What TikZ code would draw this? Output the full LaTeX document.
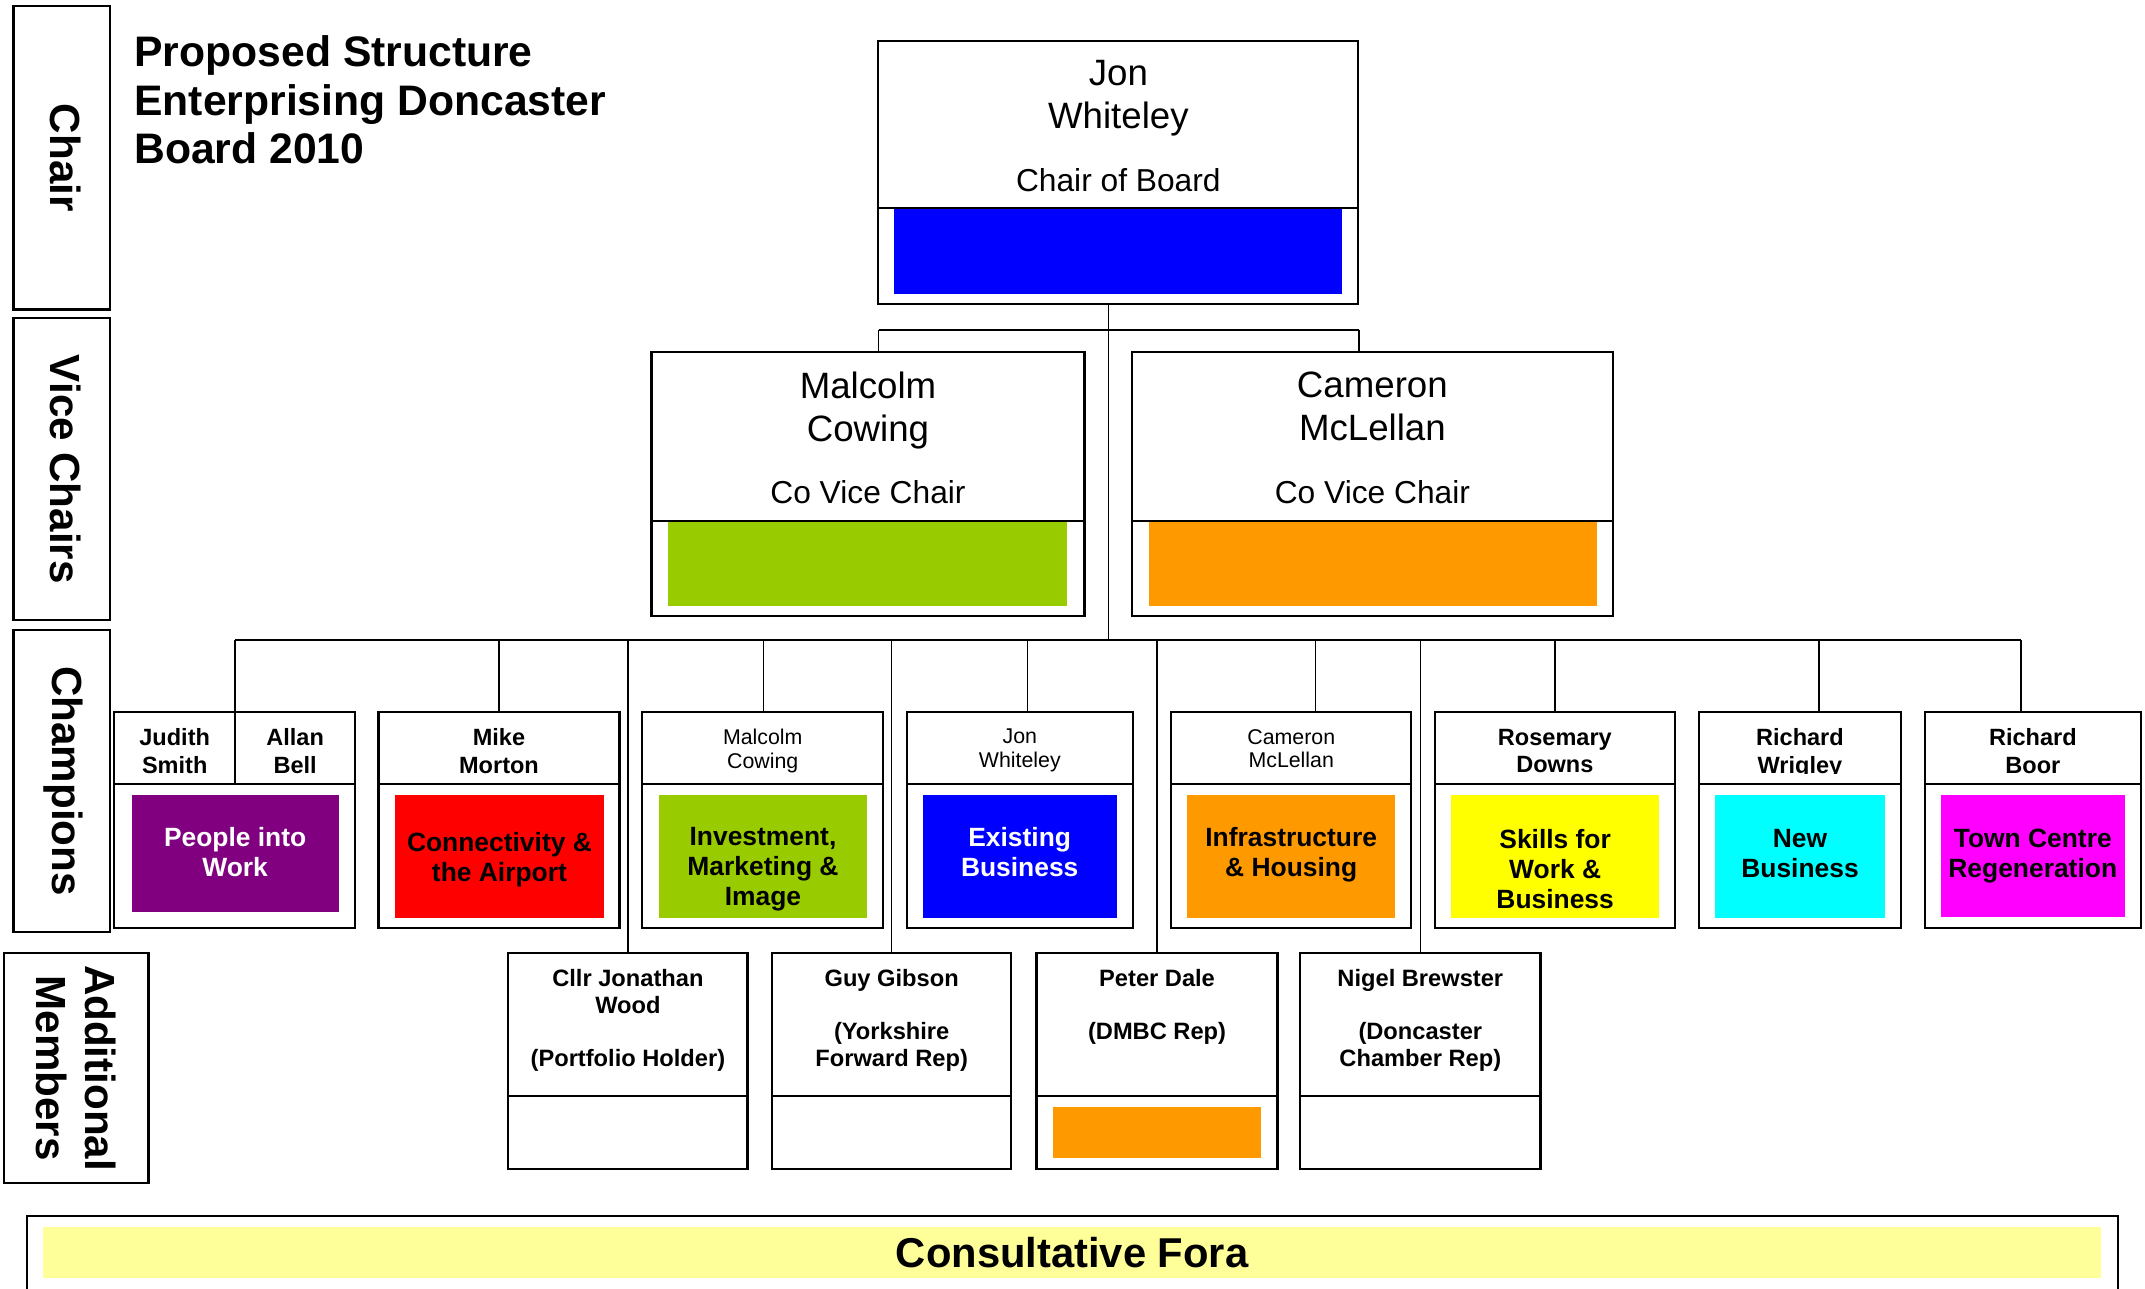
\documentclass[tikz,border=0pt]{standalone}
\usepackage{fontspec}
\setmainfont{Liberation Sans}
\definecolor{cblue}{HTML}{0000FF}
\definecolor{cgreen}{HTML}{99CC00}
\definecolor{corange}{HTML}{FF9900}
\definecolor{cpurple}{HTML}{800080}
\definecolor{cred}{HTML}{FF0000}
\definecolor{cyellow}{HTML}{FFFF00}
\definecolor{ccyan}{HTML}{00FFFF}
\definecolor{cmagenta}{HTML}{FF00FF}
\definecolor{cpale}{HTML}{FFFF99}
\begin{document}
\begin{tikzpicture}[x=1pt,y=-1pt,
 boxf/.style={draw, line width=1.6pt, anchor=north west, inner sep=0pt, outer sep=0pt},
 conn/.style={line width=1.2pt},
 divl/.style={line width=1.6pt},
 txt/.style={inner sep=0pt, outer sep=0pt, align=center, anchor=north},
 sidef/.style={font=\fontsize{30.8}{36}\selectfont\bfseries},
 titlef/.style={font=\fontsize{31.2}{35.5}\selectfont\bfseries},
 namef/.style={font=\fontsize{26.8}{31.7}\selectfont},
 rolef/.style={font=\fontsize{23.2}{28}\selectfont},
 hdrb/.style={font=\fontsize{17.2}{20}\selectfont\bfseries},
 hdrr/.style={font=\fontsize{15.6}{17.2}\selectfont},
 colf/.style={font=\fontsize{19.3}{22}\selectfont\bfseries},
 addf/.style={font=\fontsize{17.3}{19.5}\selectfont\bfseries},
 consf/.style={font=\fontsize{30.5}{34}\selectfont\bfseries},
]
\useasboundingbox (0,0) rectangle (1568,942);
% coloured panels
\fill[cblue] (653.5,153) rectangle (980.8,214.9);
\fill[cgreen] (488.3,381.3) rectangle (780.2,443);
\fill[corange] (839.8,381.3) rectangle (1167.1,443);
\fill[cpurple] (96.2,581) rectangle (247.6,666.4);
\fill[cred] (288.7,581) rectangle (441.5,670.8);
\fill[cgreen] (481.9,581) rectangle (633.6,670.8);
\fill[cblue] (674.6,581) rectangle (816.2,670.8);
\fill[corange] (867.8,581) rectangle (1019.9,670.8);
\fill[cyellow] (1061,581) rectangle (1212.6,670.8);
\fill[ccyan] (1253.6,581) rectangle (1378,670.8);
\fill[cmagenta] (1418.6,581) rectangle (1553.3,670);
\fill[corange] (770,809) rectangle (921.6,846.5);
\fill[cpale] (31.7,896.7) rectangle (1535.7,934.4);
% side label boxes
\node[boxf, minimum width=70.8pt, minimum height=221.7pt] (lchair) at (9.8,4.5) {};
\node[boxf, minimum width=70.8pt, minimum height=220.8pt] (lvice) at (9.8,232.7) {};
\node[boxf, minimum width=70.8pt, minimum height=221pt] (lchamp) at (9.8,460.4) {};
\node[boxf, minimum width=105.8pt, minimum height=168.6pt] (laddl) at (2.8,696.4) {};
\node[rotate=-90, inner sep=0pt, sidef] (tchair) at ([xshift=2.5pt]lchair.center) {Chair};
\node[rotate=-90, inner sep=0pt, sidef] (tvice) at ([xshift=2.5pt]lvice.center) {Vice Chairs};
\node[rotate=-90, inner sep=0pt, sidef] (tchamp) at ([xshift=1pt]lchamp.center) {Champions};
\node[rotate=-90, inner sep=0pt, align=center, sidef] (taddl) at (laddl.center) {Additional\\Members};
% title
\node[anchor=north west, inner sep=0pt, align=left, titlef] (title) at (98,26) {Proposed Structure\\Enterprising Doncaster\\Board 2010};
% chair and vice chairs
\node[boxf, minimum width=350.9pt, minimum height=192.5pt] (chair) at (642,29.7) {};
\node[boxf, minimum width=316.6pt, minimum height=193pt] (vmal) at (476.2,257.3) {};
\node[boxf, minimum width=351.1pt, minimum height=193pt] (vcam) at (827.7,257.3) {};
\coordinate (cdiv) at (0,152.3);
\coordinate (vdiv) at (0,380.6);
\draw[divl] (chair.west |- cdiv) -- (chair.east |- cdiv);
\draw[divl] (vmal.west |- vdiv) -- (vmal.east |- vdiv);
\draw[divl] (vcam.west |- vdiv) -- (vcam.east |- vdiv);
\node[txt, namef] (njon) at (817.5,43.9) {Jon\\Whiteley};
\node[inner sep=0pt, rolef] (rjon) at (817.5,131.6) {Chair of Board};
\node[txt, namef] (nmal) at (634.5,271.8) {Malcolm\\Cowing};
\node[inner sep=0pt, rolef] (rmal) at (634.5,359.4) {Co Vice Chair};
\node[txt, namef] (ncam) at (1003.2,271.8) {Cameron\\McLellan};
\node[inner sep=0pt, rolef] (rcam) at (1003.2,359.4) {Co Vice Chair};
% champions
\node[boxf, minimum width=176.1pt, minimum height=157.9pt] (cjud) at (83.5,520.7) {};
\node[boxf, minimum width=176.1pt, minimum height=157.9pt] (cmike) at (276.7,520.7) {};
\node[boxf, minimum width=176.1pt, minimum height=157.9pt] (cmal) at (469.5,520.7) {};
\node[boxf, minimum width=165.1pt, minimum height=157.9pt] (cjon) at (662.9,520.7) {};
\node[boxf, minimum width=175.5pt, minimum height=157.9pt] (ccam) at (856.1,520.7) {};
\node[boxf, minimum width=175.4pt, minimum height=157.9pt] (cros) at (1048.9,520.7) {};
\node[boxf, minimum width=147.3pt, minimum height=157.9pt] (cwri) at (1242.1,520.7) {};
\node[boxf, minimum width=157.9pt, minimum height=157.9pt] (cboor) at (1407.1,520.7) {};
\coordinate (hdr) at (0,573);
\foreach \b in {cjud,cmike,cmal,cjon,ccam,cros,cwri,cboor}
  \draw[divl] (\b.west |- hdr) -- (\b.east |- hdr);
\node[txt, hdrb] (hjud) at (127.7,532.8) {Judith\\Smith};
\node[txt, hdrb] (hall) at (215.75,532.8) {Allan\\Bell};
\node[txt, hdrb] (hmike) at (364.75,532.8) {Mike\\Morton};
\node[txt, hdrr] (hmal) at (557.6,533) {Malcolm\\Cowing};
\node[txt, hdrr] (hjon) at (745.5,533) {Jon\\Whiteley};
\node[txt, hdrr] (hcam) at (943.9,533) {Cameron\\McLellan};
\node[txt, hdrb] (hros) at (1136.6,532.8) {Rosemary\\Downs};
\begin{scope}
\clip (1242.1,520.7) rectangle (1389.4,565.3);
\node[txt, hdrb] (hwri) at (1315.75,532.8) {Richard\\Wrigley};
\end{scope}
\node[txt, hdrb] (hboor) at (1486,532.8) {Richard\\Boor};
\node[txt, colf, text=white] (gpeople) at (171.9,604.7) {People into\\Work};
\node[txt, colf] (gconn) at (365.1,608.4) {Connectivity \&\\the Airport};
\node[txt, colf] (ginv) at (557.75,604.7) {Investment,\\Marketing \&\\Image};
\node[txt, colf, text=white] (gexist) at (745.4,604.7) {Existing\\Business};
\node[txt, colf] (ginfra) at (943.85,604.7) {Infrastructure\\\& Housing};
\node[txt, colf] (gskills) at (1136.8,606.4) {Skills for\\Work \&\\Business};
\node[txt, colf] (gnew) at (1315.8,606.1) {New\\Business};
\node[txt, colf] (gtown) at (1485.95,606.1) {Town Centre\\Regeneration};
% additional members
\node[boxf, minimum width=174.8pt, minimum height=157.9pt] (acllr) at (371.6,696.4) {};
\node[boxf, minimum width=174.4pt, minimum height=157.9pt] (aguy) at (564.6,696.4) {};
\node[boxf, minimum width=176.2pt, minimum height=157.9pt] (apet) at (757.7,696.4) {};
\node[boxf, minimum width=175.7pt, minimum height=157.9pt] (anig) at (950.4,696.4) {};
\coordinate (adiv) at (0,801.2);
\foreach \b in {acllr,aguy,apet,anig}
  \draw[divl] (\b.west |- adiv) -- (\b.east |- adiv);
\node[txt, addf] (tcllr) at (459,708.5) {Cllr Jonathan\\Wood\\[19.5pt](Portfolio Holder)};
\node[txt, addf] (tguy) at (651.8,708.5) {Guy Gibson\\[19.5pt](Yorkshire\\Forward Rep)};
\node[txt, addf] (tpet) at (845.8,708.5) {Peter Dale\\[19.5pt](DMBC Rep)};
\node[txt, addf] (tnig) at (1038.25,708.5) {Nigel Brewster\\[19.5pt](Doncaster\\Chamber Rep)};
% consultative fora
\node[boxf, minimum width=1528.4pt, minimum height=70pt] (cons) at (19.6,888.9) {};
\node[inner sep=0pt, consf] (tcons) at (783.7,915.5) {Consultative Fora};
% connectors
\coordinate (bus) at (0,468);
\coordinate (hub) at (810.3,468);
\coordinate (vl) at (642.2,241);
\coordinate (vr) at (993.2,241);
\draw[conn] (hub |- chair.south) -- (hub);
\draw[conn] (vl) -- (vr);
\draw[conn] (vl) -- (vl |- vmal.north);
\draw[conn] (vr) -- (vr |- vcam.north);
\coordinate (kjud) at (171.9,468);
\coordinate (kmike) at (364.7,468);
\coordinate (kmal) at (558,468);
\coordinate (kjon) at (751,468);
\coordinate (kcam) at (961.5,468);
\coordinate (kros) at (1136.7,468);
\coordinate (kwri) at (1329.9,468);
\coordinate (kboor) at (1477.5,468);
\draw[conn] (kjud) -- (kboor);
\foreach \k/\b in {kjud/cjud,kmike/cmike,kmal/cmal,kjon/cjon,kcam/ccam,kros/cros,kwri/cwri,kboor/cboor}
  \draw[conn] (\k) -- (\k |- \b.north);
\draw[divl] (kjud |- cjud.north) -- (kjud |- hdr);
\foreach \b in {acllr,aguy,apet,anig}
  \draw[conn] (\b.north |- bus) -- (\b.north);
\end{tikzpicture}
\end{document}
